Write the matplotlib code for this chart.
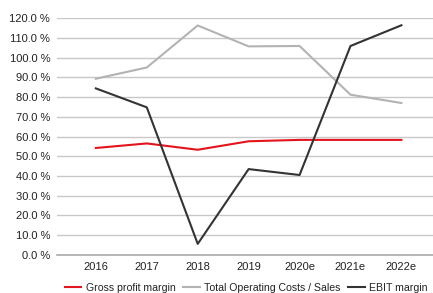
import matplotlib
matplotlib.use("Agg")
import matplotlib.pyplot as plt
from matplotlib.ticker import FuncFormatter, MultipleLocator

plt.rcParams['font.family'] = ['Liberation Sans', 'DejaVu Sans']

years = ["2016", "2017", "2018", "2019", "2020e", "2021e", "2022e"]
gross_profit_margin = [54.2, 56.5, 53.3, 57.6, 58.3, 58.3, 58.3]
total_opex_sales = [89.3, 95.0, 116.3, 105.7, 105.9, 81.2, 77.0]
ebit_margin = [84.4, 74.8, 5.6, 43.5, 40.5, 105.9, 116.4]

fig = plt.figure(figsize=(4.33, 2.93), dpi=100)
ax = fig.add_axes([0.132, 0.130, 0.868, 0.808])

x = list(range(len(years)))
ax.plot(x, gross_profit_margin, color="#e3141b", lw=1.5, label="Gross profit margin", zorder=3)
ax.plot(x, total_opex_sales, color="#b3b3b3", lw=1.5, label="Total Operating Costs / Sales", zorder=3)
ax.plot(x, ebit_margin, color="#333333", lw=1.5, label="EBIT margin", zorder=3)

ax.set_ylim(0, 120)
ax.set_xlim(-0.76, 6.62)
ax.yaxis.set_major_locator(MultipleLocator(10))
ax.yaxis.set_major_formatter(FuncFormatter(lambda v, p: f"{v:.1f} %"))
ax.set_xticks(x)
ax.set_xticklabels(years)
ax.grid(axis="y", color="#c8c8c8", lw=1.0)
ax.set_axisbelow(True)
for s in ["top", "right", "left"]:
    ax.spines[s].set_visible(False)
ax.spines["bottom"].set_color("#aaaaaa")
ax.spines["bottom"].set_linewidth(1.2)
ax.tick_params(axis="both", length=0, labelsize=8, colors="#222222")
ax.tick_params(axis="y", pad=5)
ax.tick_params(axis="x", pad=5)

fig.legend(loc="center", bbox_to_anchor=(0.568, 0.018), ncol=3, frameon=False,
           fontsize=7.6, handlelength=1.6, handletextpad=0.4, columnspacing=0.7,
           labelcolor="#222222")

fig.savefig("out.png", dpi=100)
